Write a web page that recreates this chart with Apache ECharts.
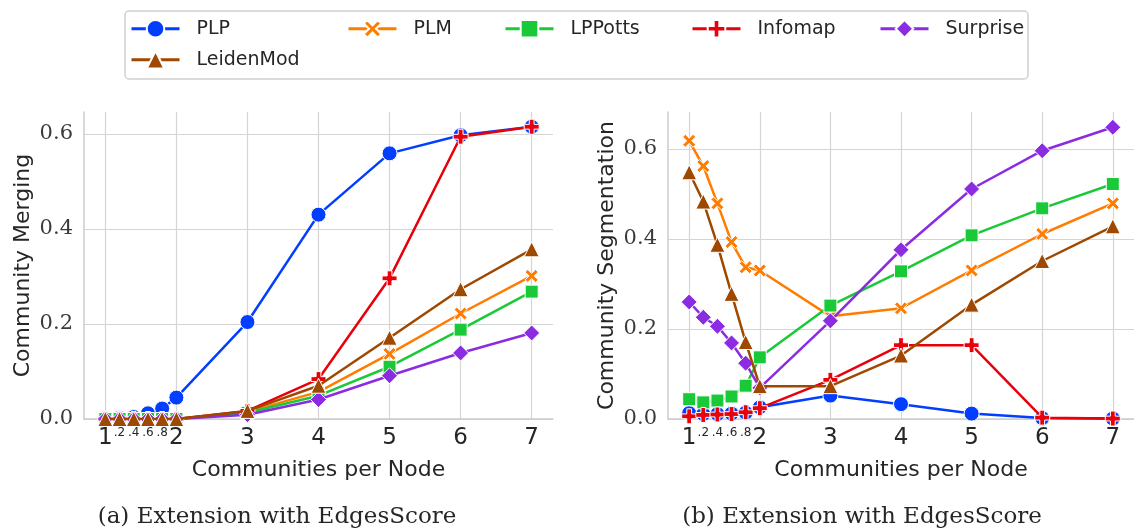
<!DOCTYPE html>
<html><head><meta charset="utf-8">
<script src="https://cdn.jsdelivr.net/npm/echarts@6/dist/echarts.min.js"></script>
<style>html,body{margin:0;padding:0;background:#fff}#c{width:1134px;height:530px}</style>
</head><body><div id="c"></div>
<script>
// ---- data ----
const xValues = [1, 1.2, 1.4, 1.6, 1.8, 2, 3, 4, 5, 6, 7];
const xLabelValues = [1, 1.2, 1.4, 1.6, 1.8, 2, 3, 4, 5, 6, 7];
const xGridValues = [1, 2, 3, 4, 5, 6, 7];
const yTickValues = [0, 0.2, 0.4, 0.6];
const seriesNames = ['PLP', 'PLM', 'LPPotts', 'Infomap', 'Surprise', 'LeidenMod'];

// (a) Community Merging
const mergePLP       = [0.001, 0.002, 0.004, 0.012, 0.022, 0.045, 0.204, 0.430, 0.559, 0.597, 0.615];
const mergePLM       = [0, 0, 0, 0, 0, 0, 0.015, 0.057, 0.137, 0.222, 0.301];
const mergeLPPotts   = [0, 0, 0, 0, 0, 0, 0.013, 0.049, 0.110, 0.188, 0.268];
const mergeInfomap   = [0, 0, 0, 0, 0, 0, 0.017, 0.084, 0.296, 0.594, 0.615];
const mergeSurprise  = [0, 0, 0, 0, 0, 0, 0.009, 0.041, 0.091, 0.139, 0.181];
const mergeLeidenMod = [0, 0, 0, 0, 0, 0, 0.017, 0.070, 0.171, 0.273, 0.357];

// (b) Community Segmentation
const segPLP       = [0.013, 0.011, 0.011, 0.012, 0.014, 0.026, 0.052, 0.033, 0.012, 0.002, 0.001];
const segPLM       = [0.618, 0.562, 0.479, 0.393, 0.337, 0.330, 0.228, 0.246, 0.330, 0.411, 0.479];
const segLPPotts   = [0.044, 0.037, 0.041, 0.050, 0.074, 0.137, 0.252, 0.328, 0.408, 0.468, 0.522];
const segInfomap   = [0.006, 0.009, 0.010, 0.011, 0.015, 0.024, 0.087, 0.164, 0.164, 0.003, 0.001];
const segSurprise  = [0.260, 0.226, 0.206, 0.169, 0.124, 0.069, 0.218, 0.376, 0.511, 0.596, 0.648];
const segLeidenMod = [0.548, 0.483, 0.387, 0.278, 0.171, 0.073, 0.073, 0.141, 0.254, 0.351, 0.428];

const mergeData = [mergePLP, mergePLM, mergeLPPotts, mergeInfomap, mergeSurprise, mergeLeidenMod];
const segData = [segPLP, segPLM, segLPPotts, segInfomap, segSurprise, segLeidenMod];

// ---- styles ----
const colors = ['#023eff', '#ff7c00', '#1ac938', '#e8000b', '#8b2be2', '#9f4800'];
const PLUS = 'path://M34,0H66V34H100V66H66V100H34V66H0V34H34Z';
const XMARK = 'path://M0,20L20,0L50,30L80,0L100,20L70,50L100,80L80,100L50,70L20,100L0,80L30,50Z';
const symbols = ['circle', XMARK, 'rect', PLUS, 'diamond', 'triangle'];
const symbolSizes = [15, 13, 13, 15, 16, 15];
const legendLeft = [130, 347, 504, 691, 879, 130];
const legendTop = [19, 19, 19, 19, 19, 50];

const TXT = '#262626';
const GRID = '#d5d5d5';

function makeSeries(dataArr, axisIdx) {
  return seriesNames.map((n, i) => ({
    name: n, type: 'line', xAxisIndex: axisIdx, yAxisIndex: axisIdx,
    data: xValues.map((x, j) => [x, dataArr[i][j]]),
    symbol: symbols[i], symbolSize: symbolSizes[i],
    showAllSymbol: true,
    lineStyle: { width: 2.5, color: colors[i] },
    itemStyle: { color: colors[i], borderColor: '#fff', borderWidth: 1 },
    emphasis: { disabled: true },
    z: 2 + i
  }));
}

function xAxis(idx) {
  return {
    gridIndex: idx, type: 'value', min: 0.7, max: 7.3,
    name: 'Communities per Node', nameLocation: 'middle', nameGap: 40,
    nameTextStyle: { fontFamily: 'DejaVu Sans', fontSize: 22, color: TXT },
    axisLine: { show: true, lineStyle: { color: '#cccccc', width: 1.5 } },
    axisTick: { show: false, customValues: xGridValues },
    splitLine: { show: true, lineStyle: { color: GRID, width: 1.2 } },
    axisLabel: {
      customValues: xLabelValues, margin: 8,
      fontFamily: 'DejaVu Sans', fontSize: 23, color: TXT,
      formatter: v => {
        if (Math.abs(v - Math.round(v)) < 1e-6) return String(Math.round(v));
        return '{s|.' + Math.round((v - Math.floor(v)) * 10) + '}';
      },
      rich: { s: { fontFamily: 'DejaVu Sans', fontSize: 12, color: TXT } }
    }
  };
}

function yAxis(idx, max, name, gap) {
  return {
    gridIndex: idx, type: 'value', min: 0, max: max,
    name: name, nameLocation: 'middle', nameGap: gap, nameRotate: 90,
    nameTextStyle: { fontFamily: 'DejaVu Sans', fontSize: 22, color: TXT },
    axisLine: { show: true, lineStyle: { color: '#cccccc', width: 1.5 } },
    axisTick: { show: false, customValues: yTickValues },
    splitLine: { show: true, lineStyle: { color: GRID, width: 1.2 } },
    axisLabel: {
      customValues: yTickValues, margin: 11,
      fontFamily: 'DejaVu Serif', fontSize: 21, color: '#3a3a3a',
      formatter: v => v.toFixed(1)
    }
  };
}

const legends = seriesNames.map((n, i) => ({
  data: [n], left: legendLeft[i], top: legendTop[i], orient: 'horizontal', padding: 0,
  itemWidth: 48, itemHeight: 22, selectedMode: false,
  lineStyle: { width: 3 },
  textStyle: { fontFamily: 'DejaVu Sans', fontSize: 19, color: TXT, padding: [0, 0, 0, 12] }
}));

const chart = echarts.init(document.getElementById('c'), null, { renderer: 'canvas' });
chart.setOption({
  animation: false,
  backgroundColor: '#fff',
  grid: [
    { left: 84, top: 112, width: 469, height: 307 },
    { left: 668, top: 112, width: 470, height: 307 }
  ],
  xAxis: [xAxis(0), xAxis(1)],
  yAxis: [yAxis(0, 0.646, 'Community Merging', 50), yAxis(1, 0.682, 'Community Segmentation', 50)],
  legend: legends,
  graphic: [
    { type: 'rect', z: -1, shape: { x: 125, y: 11, width: 903, height: 68, r: 4 },
      style: { fill: '#fff', stroke: '#d0d0d0', lineWidth: 1.5 } },
    { type: 'text', x: 277, y: 517, style: { text: '(a) Extension with EdgesScore', fontFamily: 'DejaVu Serif', fontSize: 23, fill: TXT, align: 'center', verticalAlign: 'middle' } },
    { type: 'text', x: 862, y: 517, style: { text: '(b) Extension with EdgesScore', fontFamily: 'DejaVu Serif', fontSize: 23, fill: TXT, align: 'center', verticalAlign: 'middle' } }
  ],
  series: [...makeSeries(mergeData, 0), ...makeSeries(segData, 1)]
});
</script>
</body></html>
